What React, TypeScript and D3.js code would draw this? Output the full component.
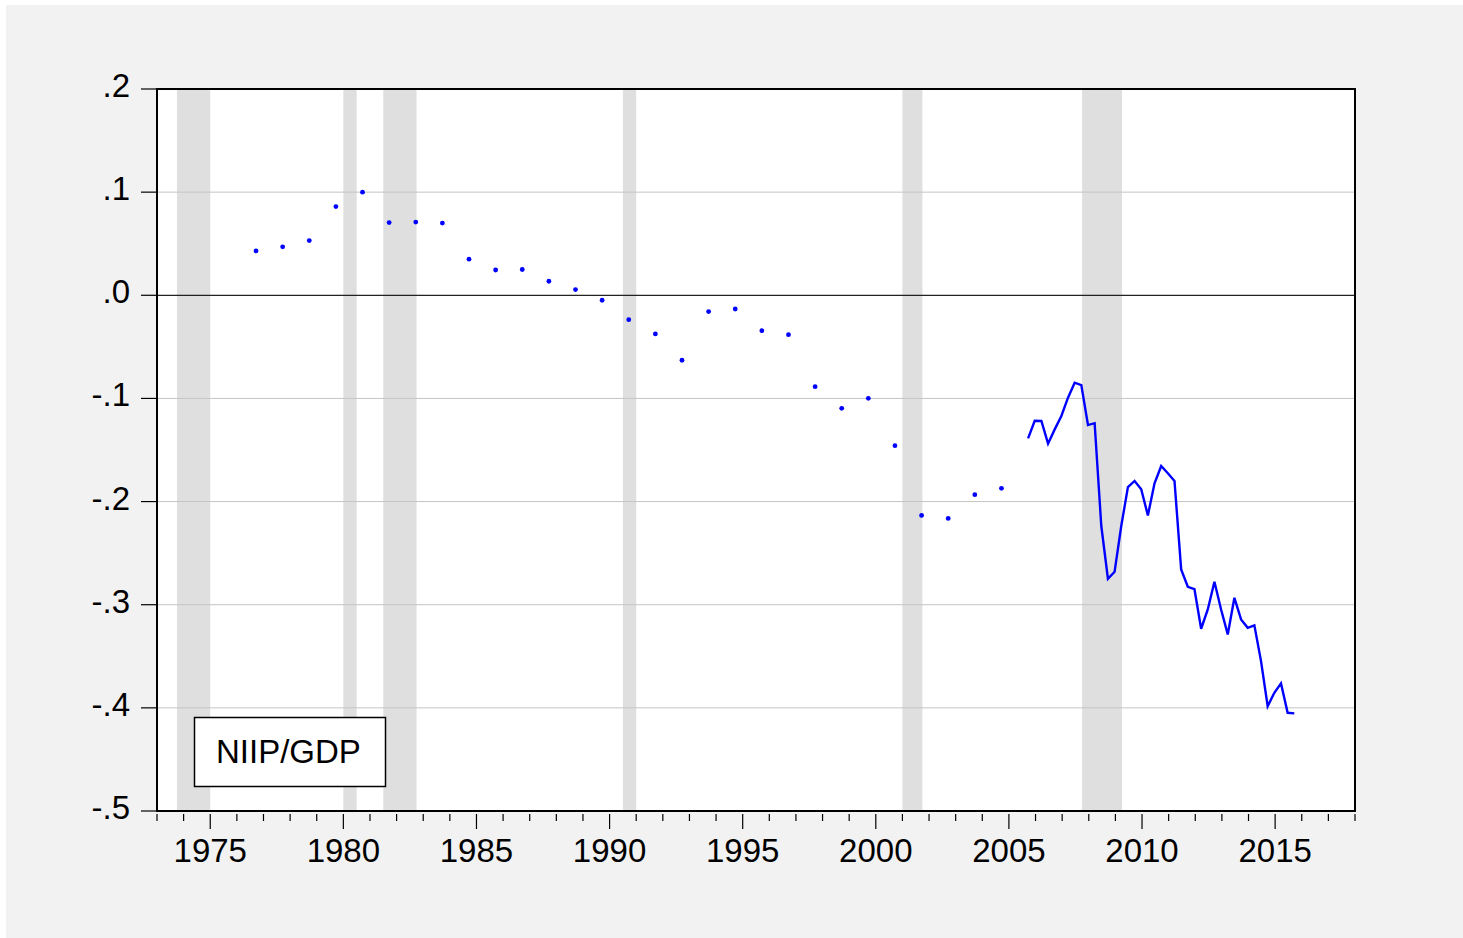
import React, { useEffect, useRef } from 'react';
import * as d3 from 'd3';

// annual observations (end of year), 1976-2004
const annualYears = d3.range(1976, 2005);
const annualValues = [
  0.043, 0.047, 0.053, 0.086, 0.1, 0.0705, 0.071, 0.07, 0.035, 0.0245,
  0.025, 0.0136, 0.0055, -0.0048, -0.0236, -0.0375, -0.063, -0.0158, -0.0133, -0.0343,
  -0.0382, -0.0886, -0.1096, -0.0999, -0.1458, -0.2134, -0.2163, -0.1933, -0.1872
];

// quarterly observations, 2005Q4 - 2015Q4
const quarterStart = { year: 2005, q: 4 };
const quarterlyValues = [
  -0.1387, -0.1216, -0.1219, -0.1439, -0.130, -0.117, -0.0993, -0.0847, -0.087, -0.1258,
  -0.124, -0.2237, -0.2748, -0.268, -0.2237, -0.186, -0.180, -0.188, -0.2134, -0.1823,
  -0.1655, -0.1726, -0.180, -0.2658, -0.2826, -0.285, -0.3233, -0.3046, -0.2777, -0.3046,
  -0.3288, -0.2933, -0.3143, -0.3224, -0.320, -0.3547, -0.3984, -0.3854, -0.3763, -0.4048,
  -0.4054
];

// NBER recessions, peak quarter start -> trough quarter start
const recessions = [
  [1973.75, 1975.0],
  [1980.0, 1980.5],
  [1981.5, 1982.75],
  [1990.5, 1991.0],
  [2001.0, 2001.75],
  [2007.75, 2009.25]
];

const yTicks = [0.2, 0.1, 0, -0.1, -0.2, -0.3, -0.4, -0.5];
const seriesName = 'NIIP/GDP';

const W = 1463;
const H = 938;
const FONT = '"Liberation Sans", Arial, sans-serif';
const FS = '33px';

// quarterly time position on the axis
const obsTime = (year, q) => year + (q - 1) / 4 - 0.03;

const fmtY = v => {
  const n = Math.round(Math.abs(v) * 10);
  return (v < 0 ? '-' : '') + '.' + n;
};

const App = () => {
  const svgRef = useRef();

  useEffect(() => {
    const svg = d3.select(svgRef.current);
    svg.selectAll('*').remove();

    const left = 157, right = 1355, top = 89, bottom = 811;
    const x = d3.scaleLinear().domain([1973, 2018]).range([left, right]);
    const y = d3.scaleLinear().domain([-0.5, 0.2]).range([bottom, top]);

    // backgrounds
    svg.append('rect').attr('x', 0).attr('y', 0).attr('width', W).attr('height', H).attr('fill', '#ffffff');
    svg.append('rect').attr('x', 6).attr('y', 5).attr('width', W - 6).attr('height', H - 5).attr('fill', '#f2f2f2');
    svg.append('rect')
      .attr('x', left).attr('y', top)
      .attr('width', right - left).attr('height', bottom - top)
      .attr('fill', '#ffffff');

    const g = svg.append('g');

    // recession shading
    g.selectAll('.rec')
      .data(recessions)
      .join('rect')
      .attr('class', 'rec')
      .attr('x', d => x(d[0]))
      .attr('y', top)
      .attr('width', d => x(d[1]) - x(d[0]))
      .attr('height', bottom - top)
      .attr('fill', '#dfdfdf');

    // grid lines
    g.selectAll('.grid')
      .data(yTicks.filter(v => v !== 0.2 && v !== -0.5 && v !== 0))
      .join('line')
      .attr('class', 'grid')
      .attr('x1', left).attr('x2', right)
      .attr('y1', d => y(d)).attr('y2', d => y(d))
      .attr('stroke', '#c4c4c4')
      .attr('stroke-width', 1);

    // zero line
    g.append('line')
      .attr('x1', left).attr('x2', right)
      .attr('y1', y(0)).attr('y2', y(0))
      .attr('stroke', '#222')
      .attr('stroke-width', 1.2);

    // annual dots
    g.selectAll('.dot')
      .data(annualYears.map((yr, i) => ({ t: obsTime(yr, 4), v: annualValues[i] })))
      .join('circle')
      .attr('class', 'dot')
      .attr('cx', d => x(d.t))
      .attr('cy', d => y(d.v))
      .attr('r', 2.4)
      .attr('fill', '#0000ff');

    // quarterly line
    const qData = quarterlyValues.map((v, i) => {
      const k = quarterStart.q - 1 + i;
      return { t: obsTime(quarterStart.year + Math.floor(k / 4), (k % 4) + 1), v };
    });
    const line = d3.line().x(d => x(d.t)).y(d => y(d.v));
    g.append('path')
      .attr('d', line(qData))
      .attr('fill', 'none')
      .attr('stroke', '#0000ff')
      .attr('stroke-width', 2.4)
      .attr('stroke-linejoin', 'miter');

    // frame
    g.append('rect')
      .attr('x', left).attr('y', top)
      .attr('width', right - left).attr('height', bottom - top)
      .attr('fill', 'none')
      .attr('stroke', '#000')
      .attr('stroke-width', 2);

    // y axis ticks + labels
    g.selectAll('.ytick')
      .data(yTicks)
      .join('line')
      .attr('class', 'ytick')
      .attr('x1', left - 16).attr('x2', left)
      .attr('y1', d => y(d)).attr('y2', d => y(d))
      .attr('stroke', '#000')
      .attr('stroke-width', 1.2);

    g.selectAll('.ylabel')
      .data(yTicks)
      .join('text')
      .attr('class', 'ylabel')
      .attr('x', 130)
      .attr('y', d => y(d) + 8)
      .attr('text-anchor', 'end')
      .text(d => fmtY(d))
      .style('font-size', FS)
      .style('font-family', FONT)
      .style('fill', '#000');

    // x axis ticks + labels
    const years = d3.range(1973, 2019);
    g.selectAll('.xtick')
      .data(years)
      .join('line')
      .attr('class', 'xtick')
      .attr('x1', d => x(d)).attr('x2', d => x(d))
      .attr('y1', bottom + 3)
      .attr('y2', d => (d % 5 === 0 ? bottom + 18 : bottom + 10))
      .attr('stroke', '#000')
      .attr('stroke-width', 1.2);

    g.selectAll('.xlabel')
      .data(years.filter(d => d % 5 === 0))
      .join('text')
      .attr('class', 'xlabel')
      .attr('x', d => x(d))
      .attr('y', 862)
      .attr('text-anchor', 'middle')
      .text(d => d)
      .style('font-size', FS)
      .style('font-family', FONT)
      .style('fill', '#000');

    // legend box
    const lg = g.append('g');
    lg.append('rect')
      .attr('x', 194.5).attr('y', 717.5)
      .attr('width', 191).attr('height', 69)
      .attr('fill', '#fff')
      .attr('stroke', '#000')
      .attr('stroke-width', 1.5);
    lg.append('text')
      .attr('x', 216)
      .attr('y', 763)
      .text(seriesName)
      .style('font-size', FS)
      .style('font-family', FONT)
      .style('fill', '#000');
  }, []);

  return (
    <svg
      ref={svgRef}
      width={W}
      height={H}
      style={{ position: 'absolute', left: 0, top: 0, display: 'block' }}
    />
  );
};

export default App;
